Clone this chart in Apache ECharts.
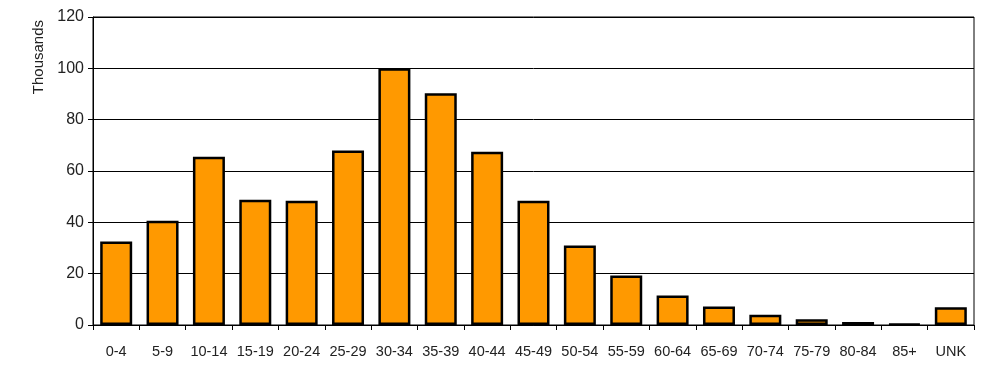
<!DOCTYPE html>
<html lang="en">
<head>
    <meta charset="UTF-8">
    <title>Thousands by age group</title>
    <script src="https://cdn.jsdelivr.net/npm/echarts@6/dist/echarts.min.js"></script>
    <style>
        body { margin: 0; padding: 0; background: #fff; }
        #box { width: 994px; height: 378px; }
    </style>
</head>
<body>
<div id="box"></div>
<script>
    // age groups and values (thousands)
    var categories = ['0-4', '5-9', '10-14', '15-19', '20-24', '25-29', '30-34', '35-39', '40-44',
        '45-49', '50-54', '55-59', '60-64', '65-69', '70-74', '75-79', '80-84', '85+', 'UNK'];
    var values = [32.5, 40.6, 65.6, 48.8, 48.4, 68, 100, 90.3, 67.5,
        48.4, 31, 19.3, 11.5, 7.2, 4, 2.2, 1.2, 0.4, 6.9];
    var yTicks = [0, 20, 40, 60, 80, 100, 120];

    var myChart = echarts.init(document.getElementById('box'));
    myChart.setOption({
        animation: false,
        textStyle: { fontFamily: 'Liberation Sans, Arial, sans-serif' },
        grid: {
            left: 93, right: 20, top: 17, bottom: 53,
            show: true, borderColor: '#000', borderWidth: 1
        },
        // axis title sits near the top, like the original
        graphic: [{
            type: 'text',
            left: 31,
            top: 20,
            rotation: Math.PI / 2,
            style: {
                text: 'Thousands',
                fill: '#222',
                font: '15px "Liberation Sans", Arial, sans-serif'
            }
        }],
        xAxis: {
            type: 'category',
            data: categories,
            axisLine: { lineStyle: { color: '#000', width: 1 } },
            axisTick: { show: true, length: 5, lineStyle: { color: '#000' } },
            axisLabel: { color: '#222', fontSize: 14.5, margin: 19, interval: 0 }
        },
        yAxis: {
            type: 'value',
            min: yTicks[0],
            max: yTicks[yTicks.length - 1],
            interval: 20,
            axisLine: { show: true, lineStyle: { color: '#000', width: 1 } },
            axisTick: { show: true, length: 5, lineStyle: { color: '#000' } },
            axisLabel: { color: '#222', fontSize: 16, margin: 9 },
            splitLine: { lineStyle: { color: '#000', width: 1 } }
        },
        series: [{
            type: 'bar',
            data: values,
            barCategoryGap: '31%',
            itemStyle: { color: '#FF9900', borderColor: '#000', borderWidth: 2.5 }
        }]
    });
</script>
</body>
</html>
